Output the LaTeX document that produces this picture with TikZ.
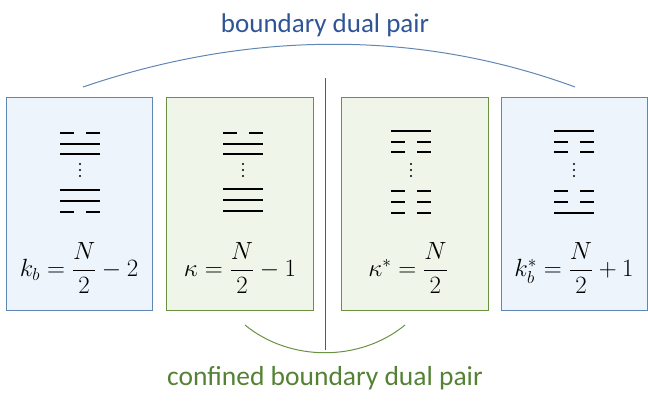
\documentclass[tikz,border=0pt]{standalone}
\usepackage{amsmath}
\usepackage{fontspec}
\setmainfont{Carlito}
\definecolor{bb}{RGB}{96,135,180}
\definecolor{bf}{RGB}{237,244,251}
\definecolor{gb}{RGB}{105,145,65}
\definecolor{gf}{RGB}{239,245,233}
\definecolor{bt}{RGB}{47,85,151}
\definecolor{gt}{RGB}{84,130,53}
\begin{document}
\begin{tikzpicture}[x=1pt,y=-1pt,
 bbox/.style={draw=bb,fill=bf,line width=1.2pt},
 gbox/.style={draw=gb,fill=gf,line width=1.2pt},
 lev/.style={line width=1.6pt,black},
 lab/.style={font=\fontsize{23}{27}\selectfont}]
\useasboundingbox (0,0) rectangle (648,410);
\node[bbox,minimum width=146,minimum height=213,anchor=north west,inner sep=0] (b1) at (6,97) {};
\node[gbox,minimum width=147,minimum height=213,anchor=north west,inner sep=0] (b2) at (166,97) {};
\node[gbox,minimum width=147,minimum height=213,anchor=north west,inner sep=0] (b3) at (341,97) {};
\node[bbox,minimum width=146,minimum height=213,anchor=north west,inner sep=0] (b4) at (501,97) {};
\draw[gray!70!black,line width=0.8pt] (325,78) -- (325,350);
% level patterns
\newcommand{\fl}[2]{\draw[lev] (#1-20,#2) -- (#1+20,#2);}
\newcommand{\dl}[2]{\draw[lev] (#1-20,#2) -- (#1-6,#2); \draw[lev] (#1+6,#2) -- (#1+20,#2);}
\newcommand{\dts}[1]{\foreach \yy in {164,170,176} \fill (#1,\yy) circle (1.2);}
\dl{80}{133}\fl{80}{144}\fl{80}{154}\dts{80}\fl{80}{190}\fl{80}{201}\dl{80}{212}
\dl{243}{133}\fl{243}{144}\fl{243}{154}\dts{243}\fl{243}{189}\fl{243}{200}\fl{243}{211}
\fl{411}{131}\dl{411}{142}\dl{411}{152}\dts{411}\dl{411}{191}\dl{411}{202}\dl{411}{213}
\fl{574}{131}\dl{574}{142}\dl{574}{152}\dts{574}\dl{574}{191}\dl{574}{202}\fl{574}{213}
\node[lab] (l1) at (79,268) {$k_b=\dfrac{N}{2}-2$};
\node[lab] (l2) at (240,268) {$\kappa=\dfrac{N}{2}-1$};
\node[lab] (l3) at (408,268) {$\kappa^*=\dfrac{N}{2}$};
\node[lab] (l4) at (574,268) {$k_b^*=\dfrac{N}{2}+1$};
\node[text=bt,font=\fontsize{27}{32}\selectfont] (t1) at (325,25) {boundary dual pair};
\node[text=gt,font=\fontsize{27.5}{32}\selectfont] (t2) at (325,378) {confined boundary dual pair};
\coordinate (a1) at (83,87); \coordinate (a2) at (575,87);
\draw[bb,line width=1pt] (a1) .. controls (250,30) and (420,30) .. (a2);
\coordinate (c1) at (245,325); \coordinate (c2) at (405,325);
\draw[gb,line width=1pt] (c1) .. controls (290,362) and (360,362) .. (c2);
\end{tikzpicture}
\end{document}
